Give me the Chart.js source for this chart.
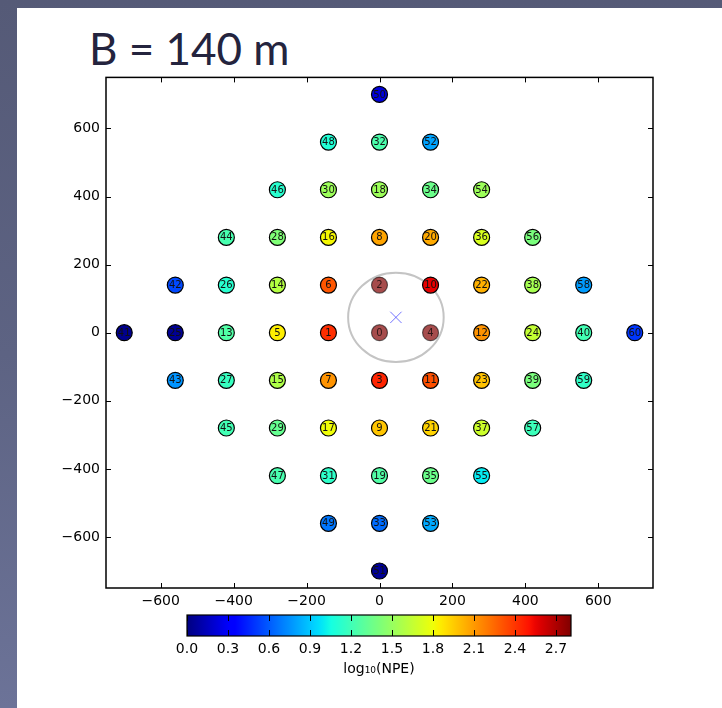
<!DOCTYPE html>
<html>
<head>
<meta charset="utf-8">
<script src="https://cdn.jsdelivr.net/npm/chart.js@4/dist/chart.umd.min.js"></script>
<style>
  html, body { margin: 0; padding: 0; }
  body {
    width: 722px; height: 708px; overflow: hidden; position: relative;
    background: linear-gradient(180deg, #555a77 0%, #5d6383 50%, #6c7398 100%);
  }
  #panel { position: absolute; left: 17px; top: 8px; right: 0; bottom: 0; background: #ffffff; }
  #title {
    position: absolute; left: 89px; top: 26px; line-height: 1;
    font-family: Lato, "Open Sans", sans-serif; font-size: 44px; color: #24243e;
    white-space: nowrap;
  }
  #mainBox { position: absolute; left: 40px; top: 63px; width: 630px; height: 552px; }
  #cbBox { position: absolute; left: 150px; top: 605px; width: 460px; height: 90px; }
</style>
</head>
<body>
<div id="panel"></div>
<div id="title">B = 140 m</div>
<div id="mainBox"><canvas id="main"></canvas></div>
<div id="cbBox"><canvas id="cb"></canvas></div>
<script>
// Station layout (metres) and measured signal, log10 of photo-electrons
const stationId = [0,1,2,3,4,5,6,7,8,9,10,11,12,13,14,15,16,17,18,19,20,21,22,23,24,25,26,27,28,29,30,
  31,32,33,34,35,36,37,38,39,40,41,42,43,44,45,46,47,48,49,50,51,52,53,54,55,56,57,58,59,60];
const stationX = [0,-140,0,0,140,-280,-140,-140,0,0,140,140,280,-420,-280,-280,-140,-140,0,0,140,140,280,280,420,
  -560,-420,-420,-280,-280,-140,-140,0,0,140,140,280,280,420,420,560,-700,-560,-560,-420,-420,-280,-280,-140,-140,
  0,0,140,140,280,280,420,420,560,560,700];
const stationY = [0,0,140,-140,0,0,140,-140,280,-280,140,-140,0,0,140,-140,280,-280,420,-420,280,-280,140,-140,0,
  0,140,-140,280,-280,420,-420,560,-560,420,-420,280,-280,140,-140,0,0,140,-140,280,-280,420,-420,560,-560,
  700,-700,560,-560,420,-420,280,-280,140,-140,0];
const logNpe = [2.81,2.42,2.81,2.45,2.81,1.85,2.30,2.12,2.07,1.97,2.56,2.32,2.12,1.26,1.60,1.58,1.82,1.80,1.52,1.26,
  2.05,1.93,2.03,1.98,1.65,0.05,1.12,1.17,1.42,1.33,1.52,1.14,1.24,0.65,1.35,1.35,1.72,1.68,1.55,1.40,1.21,
  0.03,0.55,0.76,1.23,1.21,1.12,1.23,1.10,0.68,0.22,0.05,0.80,0.82,1.52,1.00,1.40,1.19,0.78,1.15,0.50];
// Stations flagged as saturated are drawn faded
const saturatedIds = [0, 2, 4];

// Reconstructed shower core and its circle (metres)
const coreX = 45;
const coreY = 45;
const coreRadius = 131;

// Axes and colour scale
const xTickValues = [-600, -400, -200, 0, 200, 400, 600];
const yTickValues = [-600, -400, -200, 0, 200, 400, 600];
const axisMin = -750, axisMax = 750;
const cbMin = 0.0, cbMax = 2.81;
const cbTicks = [0.0, 0.3, 0.6, 0.9, 1.2, 1.5, 1.8, 2.1, 2.4, 2.7];

// matplotlib "jet" colormap
const JET = {
  r: [[0, 0], [0.35, 0], [0.66, 1], [0.89, 1], [1, 0.5]],
  g: [[0, 0], [0.125, 0], [0.375, 1], [0.64, 1], [0.91, 0], [1, 0]],
  b: [[0, 0.5], [0.11, 1], [0.34, 1], [0.65, 0], [1, 0]]
};
function seg(pts, t) {
  for (let i = 1; i < pts.length; i++) {
    if (t <= pts[i][0]) {
      const [x0, y0] = pts[i - 1], [x1, y1] = pts[i];
      return y0 + (y1 - y0) * (t - x0) / (x1 - x0);
    }
  }
  return pts[pts.length - 1][1];
}
function jet(t, alpha) {
  t = Math.max(0, Math.min(1, t));
  const r = Math.round(255 * seg(JET.r, t));
  const g = Math.round(255 * seg(JET.g, t));
  const b = Math.round(255 * seg(JET.b, t));
  return alpha == null ? `rgb(${r},${g},${b})` : `rgba(${r},${g},${b},${alpha})`;
}
const norm = v => (v - cbMin) / (cbMax - cbMin);
const fmtTick = v => (v < 0 ? '\u2212' + Math.abs(v) : String(v));

const isSat = stationId.map(id => saturatedIds.includes(id));
const fillColors = logNpe.map((v, i) => jet(norm(v), isSat[i] ? 0.7 : null));
const edgeColors = isSat.map(s => (s ? 'rgba(0,0,0,0.55)' : '#000000'));

const tickFont = { family: 'DejaVu Sans', size: 14 };

// Box frame with inward ticks on all four sides, matplotlib style
const framePlugin = {
  id: 'frame',
  afterDatasetsDraw(chart) {
    const { ctx, chartArea: a, scales: { x, y } } = chart;
    const len = 5;
    ctx.save();
    ctx.strokeStyle = '#000';
    ctx.lineWidth = 1;
    ctx.beginPath();
    x.ticks.forEach(t => {
      const px = Math.round(x.getPixelForValue(t.value)) + 0.5;
      ctx.moveTo(px, a.top); ctx.lineTo(px, a.top + len);
      ctx.moveTo(px, a.bottom); ctx.lineTo(px, a.bottom - len);
    });
    y.ticks.forEach(t => {
      const py = Math.round(y.getPixelForValue(t.value)) + 0.5;
      ctx.moveTo(a.left, py); ctx.lineTo(a.left + len, py);
      ctx.moveTo(a.right, py); ctx.lineTo(a.right - len, py);
    });
    ctx.stroke();
    ctx.lineWidth = 1.5;
    ctx.strokeRect(a.left, a.top, a.right - a.left, a.bottom - a.top);
    ctx.restore();
  }
};

// Core circle in data coordinates, behind the stations
const corePlugin = {
  id: 'coreCircle',
  beforeDatasetsDraw(chart) {
    const { ctx, scales: { x, y } } = chart;
    const cx = x.getPixelForValue(coreX), cy = y.getPixelForValue(coreY);
    const rx = Math.abs(x.getPixelForValue(coreX + coreRadius) - cx);
    const ry = Math.abs(y.getPixelForValue(coreY + coreRadius) - cy);
    ctx.save();
    ctx.strokeStyle = '#c4c4c4';
    ctx.lineWidth = 2;
    ctx.beginPath();
    ctx.ellipse(cx, cy, rx, ry, 0, 0, Math.PI * 2);
    ctx.stroke();
    ctx.restore();
  }
};

// Station numbers written inside each marker
const idPlugin = {
  id: 'stationIds',
  afterDatasetsDraw(chart) {
    const meta = chart.getDatasetMeta(1);
    const { ctx } = chart;
    ctx.save();
    ctx.font = '10px "DejaVu Sans"';
    ctx.textAlign = 'center';
    ctx.textBaseline = 'middle';
    meta.data.forEach((el, i) => {
      ctx.fillStyle = isSat[i] ? 'rgba(0,0,0,0.7)' : '#111';
      ctx.fillText(String(stationId[i]), el.x, el.y + 0.5);
    });
    ctx.restore();
  }
};

new Chart(document.getElementById('main'), {
  type: 'scatter',
  data: {
    datasets: [
      {
        label: 'core',
        data: [{ x: coreX, y: coreY }],
        pointStyle: 'crossRot',
        pointRadius: 8,
        pointBorderWidth: 1,
        borderColor: 'rgba(70,70,255,0.75)',
        backgroundColor: 'rgba(0,0,0,0)',
        order: 0
      },
      {
        label: 'stations',
        data: stationX.map((xv, i) => ({ x: xv, y: stationY[i] })),
        pointRadius: 8,
        pointBorderWidth: 1.2,
        backgroundColor: fillColors,
        borderColor: edgeColors,
        order: 1
      }
    ]
  },
  options: {
    responsive: true,
    maintainAspectRatio: false,
    animation: false,
    devicePixelRatio: 1,
    layout: { padding: { top: 1, right: 17, left: 0, bottom: 0 } },
    plugins: { legend: { display: false }, tooltip: { enabled: false } },
    scales: {
      x: {
        type: 'linear', min: axisMin, max: axisMax,
        afterBuildTicks: s => { s.ticks = xTickValues.map(v => ({ value: v })); },
        afterFit: s => { s.height = 27; },
        grid: { display: false, drawTicks: false },
        border: { display: false },
        ticks: { padding: 5, color: '#000', font: tickFont, maxRotation: 0, callback: v => fmtTick(v) }
      },
      y: {
        type: 'linear', min: axisMin, max: axisMax,
        afterBuildTicks: s => { s.ticks = yTickValues.map(v => ({ value: v })); },
        afterFit: s => { s.width = 66; },
        grid: { display: false, drawTicks: false },
        border: { display: false },
        ticks: { padding: 6, color: '#000', font: tickFont, callback: v => fmtTick(v) }
      }
    }
  },
  plugins: [corePlugin, idPlugin, framePlugin]
});

// Horizontal colour bar on its own linear scale
const colorbarPlugin = {
  id: 'colorbar',
  beforeDatasetsDraw(chart) {
    const { ctx, chartArea: a, scales: { x } } = chart;
    const x0 = x.getPixelForValue(cbMin), x1 = x.getPixelForValue(cbMax);
    const grad = ctx.createLinearGradient(x0, 0, x1, 0);
    const n = 64;
    for (let i = 0; i <= n; i++) grad.addColorStop(i / n, jet(i / n));
    ctx.save();
    ctx.fillStyle = grad;
    ctx.fillRect(x0, a.top, x1 - x0, a.bottom - a.top);
    ctx.strokeStyle = '#000';
    ctx.lineWidth = 1;
    ctx.beginPath();
    x.ticks.forEach(t => {
      const px = Math.round(x.getPixelForValue(t.value)) + 0.5;
      ctx.moveTo(px, a.top); ctx.lineTo(px, a.top + 6);
      ctx.moveTo(px, a.bottom); ctx.lineTo(px, a.bottom - 6);
    });
    ctx.stroke();
    ctx.lineWidth = 1.2;
    ctx.strokeRect(x0, a.top, x1 - x0, a.bottom - a.top);
    ctx.restore();
  }
};

new Chart(document.getElementById('cb'), {
  type: 'scatter',
  data: { datasets: [{ data: [] }] },
  options: {
    responsive: true,
    maintainAspectRatio: false,
    animation: false,
    devicePixelRatio: 1,
    layout: { padding: { top: 10, right: 39, left: 37, bottom: 0 } },
    plugins: { legend: { display: false }, tooltip: { enabled: false } },
    scales: {
      x: {
        type: 'linear', min: cbMin, max: cbMax,
        afterBuildTicks: s => { s.ticks = cbTicks.map(v => ({ value: v })); },
        afterFit: s => { s.height = 59; },
        grid: { display: false, drawTicks: false },
        border: { display: false },
        ticks: { padding: 5, color: '#000', font: tickFont, maxRotation: 0, callback: v => v.toFixed(1) },
        title: {
          display: true, text: 'log\u2081\u2080(NPE)', color: '#000',
          font: { family: 'DejaVu Sans', size: 14 },
          padding: { top: 2, bottom: 17 }
        }
      },
      y: { display: false, min: 0, max: 1 }
    }
  },
  plugins: [colorbarPlugin]
});
</script>
</body>
</html>
